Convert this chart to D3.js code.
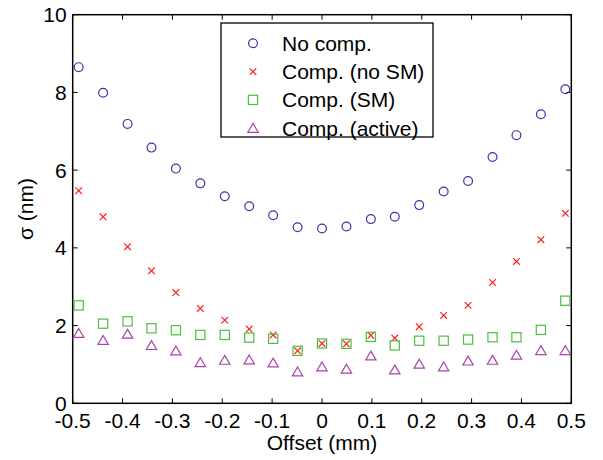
<!DOCTYPE html>
<html><head><meta charset="utf-8">
<script src="https://cdn.jsdelivr.net/npm/d3@7"></script>
<style>body{margin:0;background:#fff}svg{display:block}text{font-family:"Liberation Sans",Arial,Helvetica,sans-serif}</style>
</head><body>
<svg id="c" width="603" height="460"></svg>
<script>
const offsets = [-0.488,-0.439,-0.390,-0.342,-0.293,-0.244,-0.195,-0.146,-0.098,-0.049,0,0.049,0.098,0.146,0.195,0.244,0.293,0.342,0.390,0.439,0.488];
const noComp   = [8.65,7.99,7.19,6.58,6.04,5.66,5.33,5.07,4.84,4.53,4.50,4.55,4.74,4.80,5.10,5.45,5.72,6.34,6.90,7.44,8.08];
const compNoSM = [5.47,4.80,4.03,3.41,2.85,2.44,2.14,1.91,1.76,1.35,1.54,1.53,1.75,1.68,1.97,2.26,2.52,3.11,3.65,4.21,4.89];
const compSM   = [2.52,2.05,2.11,1.93,1.88,1.76,1.76,1.69,1.66,1.35,1.54,1.53,1.71,1.49,1.61,1.61,1.64,1.70,1.70,1.89,2.64];
const compAct  = [1.80,1.62,1.78,1.49,1.35,1.05,1.11,1.12,1.04,0.81,0.94,0.88,1.22,0.86,1.01,0.94,1.09,1.11,1.24,1.36,1.36];
const xTicks = [-0.5,-0.4,-0.3,-0.2,-0.1,0,0.1,0.2,0.3,0.4,0.5];
const yTicks = [0,2,4,6,8,10];
const seriesNames = ["No comp.","Comp. (no SM)","Comp. (SM)","Comp. (active)"];

const svg = d3.select("#c");
const L=72.7, R=571.3, T=14.7, B=403.3;
const FS = 21;
const x = d3.scaleLinear().domain([-0.5,0.5]).range([L,R]);
const y = d3.scaleLinear().domain([0,10]).range([B,T]);

const series = [
  {name:seriesNames[0], vals:noComp,   color:"#3636a3", shape:"circle"},
  {name:seriesNames[1], vals:compNoSM, color:"#ff2020", shape:"cross"},
  {name:seriesNames[2], vals:compSM,   color:"#4cbf3f", shape:"square"},
  {name:seriesNames[3], vals:compAct,  color:"#a844a8", shape:"triangle"}
];

function drawMarker(g, shape, color, cx, cy){
  if(shape==="circle"){
    g.append("circle").attr("cx",cx).attr("cy",cy).attr("r",4.4).attr("fill","none").attr("stroke",color).attr("stroke-width",1.2);
  } else if(shape==="cross"){
    const s=3.3;
    g.append("path").attr("d",`M${cx-s},${cy-s}L${cx+s},${cy+s}M${cx-s},${cy+s}L${cx+s},${cy-s}`).attr("stroke",color).attr("stroke-width",1.2).attr("fill","none");
  } else if(shape==="square"){
    const s=4.6;
    g.append("rect").attr("x",cx-s).attr("y",cy-s).attr("width",2*s).attr("height",2*s).attr("fill","none").attr("stroke",color).attr("stroke-width",1.2);
  } else {
    const w=5.2, h=4.8;
    g.append("path").attr("d",`M${cx},${cy-h}L${cx+w},${cy+h*0.85}L${cx-w},${cy+h*0.85}Z`).attr("fill","none").attr("stroke",color).attr("stroke-width",1.2);
  }
}

const ax = svg.append("g");
const tl = 5;
const fmt = t => t===0 ? "0" : String(t);
xTicks.forEach(t=>{
  ax.append("line").attr("x1",x(t)).attr("x2",x(t)).attr("y1",B).attr("y2",B-tl).attr("stroke","#000").attr("stroke-width",1);
  ax.append("line").attr("x1",x(t)).attr("x2",x(t)).attr("y1",T).attr("y2",T+tl).attr("stroke","#000").attr("stroke-width",1);
  ax.append("text").attr("x",x(t)).attr("y",B+24.5).attr("text-anchor","middle").attr("font-size",FS).text(fmt(t));
});
yTicks.forEach(t=>{
  ax.append("line").attr("x1",L).attr("x2",L+tl).attr("y1",y(t)).attr("y2",y(t)).attr("stroke","#000").attr("stroke-width",1);
  ax.append("line").attr("x1",R).attr("x2",R-tl).attr("y1",y(t)).attr("y2",y(t)).attr("stroke","#000").attr("stroke-width",1);
  ax.append("text").attr("x",L-6).attr("y",y(t)+7.5).attr("text-anchor","end").attr("font-size",FS).text(t);
});
ax.append("rect").attr("x",L).attr("y",T).attr("width",R-L).attr("height",B-T).attr("fill","none").attr("stroke","#000").attr("stroke-width",1.5);

const pg = svg.append("g");
series.forEach(s=>{
  s.vals.forEach((v,i)=>drawMarker(pg, s.shape, s.color, x(offsets[i]), y(v)));
});

svg.append("text").attr("x",(L+R)/2).attr("y",450).attr("text-anchor","middle").attr("font-size",FS).text("Offset (mm)");
svg.append("text").attr("transform",`translate(33,${(T+B)/2}) rotate(-90)`).attr("text-anchor","middle").attr("font-size",FS).text("σ (nm)");

const lg = svg.append("g");
lg.append("rect").attr("x",221).attr("y",23).attr("width",212).attr("height",114).attr("fill","#fff").attr("stroke","#000").attr("stroke-width",1.3);
series.forEach((s,i)=>{
  const cy = 43.3 + i*28.3;
  drawMarker(lg, s.shape, s.color, 253, cy);
  lg.append("text").attr("x",282).attr("y",cy+7.5).attr("font-size",FS).text(s.name);
});
</script>
</body></html>
